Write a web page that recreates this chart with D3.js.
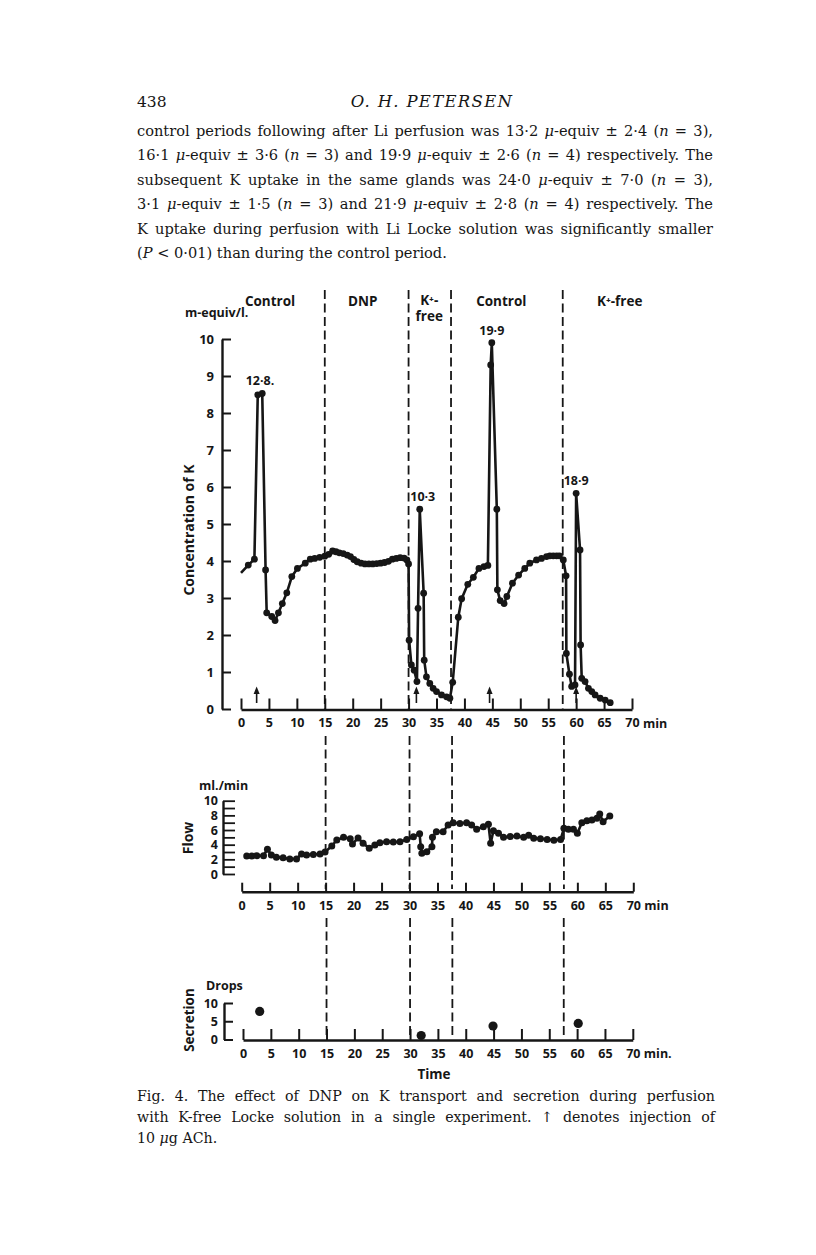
<!DOCTYPE html>
<html><head><meta charset="utf-8">
<script src="https://cdn.jsdelivr.net/npm/d3@7"></script>
<style>body{margin:0;background:#fff} svg{display:block} text{white-space:pre}</style>
</head><body><svg id="c" width="816" height="1255"></svg>
<script>
// ---------------- DATA ----------------
const kTime = [0.0,1.3,2.4,3.0,3.8,4.4,4.6,5.5,6.1,6.7,7.4,8.2,9.1,10.1,11.5,12.4,13.2,14.1,15.0,15.7,16.4,17.0,17.6,18.3,19.0,19.6,20.2,20.8,21.5,22.2,22.9,23.6,24.3,25.0,25.7,26.4,27.1,27.8,28.5,29.2,29.7,30.0,30.1,30.5,31.0,31.5,31.7,32.0,32.7,32.8,33.2,33.8,34.4,35.0,35.9,36.8,37.4,37.9,38.9,39.5,40.6,41.6,42.6,43.5,44.2,44.7,44.9,45.8,45.9,46.4,47.1,47.6,48.6,49.7,50.8,51.7,52.9,53.8,54.7,55.3,55.9,56.5,57.0,57.7,58.2,58.25,58.8,59.2,59.8,60.0,60.7,60.8,61.0,61.6,62.2,62.8,63.4,64.3,65.2,66.1];
const kConc = [3.68,3.89,4.05,8.49,8.53,3.76,2.60,2.50,2.39,2.60,2.85,3.14,3.58,3.80,3.94,4.05,4.07,4.10,4.13,4.18,4.27,4.25,4.22,4.20,4.16,4.12,4.04,3.98,3.94,3.92,3.92,3.92,3.93,3.94,3.96,3.99,4.05,4.07,4.09,4.08,4.03,3.92,1.86,1.19,1.05,0.74,2.72,5.40,3.13,1.32,0.87,0.69,0.56,0.47,0.38,0.33,0.29,0.72,2.48,2.98,3.37,3.56,3.80,3.85,3.88,9.30,9.90,5.40,3.22,2.93,2.85,3.04,3.40,3.62,3.80,3.94,4.03,4.07,4.12,4.14,4.14,4.14,4.14,4.03,3.60,1.50,0.94,0.61,0.65,5.83,4.30,1.73,0.83,0.74,0.56,0.47,0.38,0.29,0.24,0.17];

const flowTime = [0.9,1.8,2.7,3.9,4.6,5.3,6.2,7.4,8.6,9.8,10.7,11.6,12.8,14.0,14.9,16.1,17.0,18.2,19.4,19.8,20.8,21.7,22.8,23.8,24.7,25.9,27.1,28.3,29.5,30.7,31.8,32.0,32.2,33.1,34.0,34.1,34.8,36.0,36.9,37.8,39.0,40.2,41.1,42.0,43.2,44.1,44.5,45.0,45.9,46.8,48.0,49.2,50.4,51.3,52.2,53.4,54.6,55.8,57.0,57.6,58.4,59.3,60.0,60.8,61.7,62.6,63.5,64.0,64.6,65.8];
const flowRate = [2.46,2.46,2.5,2.5,3.37,2.6,2.3,2.2,2.05,2.05,2.73,2.6,2.65,2.73,3.0,3.82,4.64,5.0,4.8,4.1,4.9,4.2,3.5,3.96,4.28,4.4,4.35,4.4,4.7,5.09,5.5,3.73,2.82,3.05,3.73,5.0,5.77,5.77,6.68,7.0,6.9,7.0,6.68,6.1,6.46,6.8,4.19,5.9,5.55,5.0,5.1,5.18,5.0,5.3,4.87,4.8,4.7,4.6,4.7,6.23,6.1,6.1,5.55,7.0,7.28,7.37,7.6,8.19,7.14,7.9];

const secTime  = [3.0, 32.0, 44.9, 60.2];
const secDrops = [7.7, 1.1, 3.7, 4.4];

const timeTicks   = [0,5,10,15,20,25,30,35,40,45,50,55,60,65,70];
const kTicks      = [0,1,2,3,4,5,6,7,8,9,10];
const flowTicks   = [0,1,2,3,4,5,6,7,8,9,10];
const secTicks    = [0,5,10];
const periodBounds = [15, 30, 37.6, 57.6];
const periodNames  = ["Control", "DNP", "K\u207A-|free", "Control", "K\u207A-free"];
const periodMid    = [5.2, 21.8, 33.7, 46.6, 67.8];
const peakTimes    = [3.4, 32.0, 44.9, 60.0];
const peakLabels   = ["12·8.", "10·3", "19·9", "18·9"];
const achTimes     = [2.8, 31.4, 44.5, 60.0];

const paragraph = [
 "control periods following after Li perfusion was 13·2 {μ}-equiv ± 2·4 ({n} = 3),",
 "16·1 {μ}-equiv ± 3·6 ({n} = 3) and 19·9 {μ}-equiv ± 2·6 ({n} = 4) respectively. The",
 "subsequent K uptake in the same glands was 24·0 {μ}-equiv ± 7·0 ({n} = 3),",
 "3·1 {μ}-equiv ± 1·5 ({n} = 3) and 21·9 {μ}-equiv ± 2·8 ({n} = 4) respectively. The",
 "K uptake during perfusion with Li Locke solution was significantly smaller",
 "({P} < 0·01) than during the control period."
];
const caption = [
 "Fig. 4. The effect of DNP on K transport and secretion during perfusion",
 "with K-free Locke solution in a single experiment. ↑ denotes injection of",
 "10 {μ}g ACh."
];

// ---------------- DRAW ----------------
const svg = d3.select("#c");
const INK = "#161616";
const SANS = "'Open Sans', Lato, sans-serif";
const SERIF = "'DejaVu Serif', 'Liberation Serif', serif";

function rich(sel, str){
  str.split(/(\{[^}]*\})/).forEach(p=>{
    if(!p) return;
    if(p[0]==="{") sel.append("tspan").attr("font-style","italic").text(p.slice(1,-1));
    else sel.append("tspan").text(p);
  });
}
function justify(t, str, width){
  const w = t.node().getComputedTextLength();
  const n = (str.match(/ /g)||[]).length;
  if(n>0) t.attr("word-spacing", (width - w)/n);
}

// header
svg.append("text").attr("x",137).attr("y",107).attr("font-family",SERIF).attr("font-size",15.5).attr("fill",INK).text("438");
svg.append("text").attr("x",432).attr("y",107).attr("text-anchor","middle").attr("font-family",SERIF)
  .attr("font-style","italic").attr("font-size",16.5).attr("letter-spacing",1.3).attr("fill",INK).text("O. H. PETERSEN");

paragraph.forEach((ln,i)=>{
  const t = svg.append("text").attr("x",137).attr("y",136+i*24.4).attr("font-family",SERIF)
    .attr("font-size",14.6).attr("fill",INK);
  rich(t, ln);
  if(i<paragraph.length-1) justify(t, ln, 576);
});

caption.forEach((ln,i)=>{
  const t = svg.append("text").attr("x",137).attr("y",1101+i*21).attr("font-family",SERIF)
    .attr("font-size",14.2).attr("fill",INK);
  rich(t, ln);
  if(i<caption.length-1) justify(t, ln, 578);
});

// scales
const xT = d3.scaleLinear().domain([0,70]).range([241,632]);
const yK = d3.scaleLinear().domain([0,10]).range([709,339]);
const xF = d3.scaleLinear().domain([0,70]).range([241.7,633.3]);
const yF = d3.scaleLinear().domain([0,10]).range([874,800.7]);
const xS = d3.scaleLinear().domain([0,70]).range([243,632.8]);
const yS = d3.scaleLinear().domain([0,10]).range([1039.5,1003]);

function styleAxis(g, size){
  g.attr("font-family",SANS).attr("font-size",size).attr("font-weight",700);
  g.selectAll("path.domain").attr("stroke",INK).attr("stroke-width",2.4);
  g.selectAll(".tick line").attr("stroke",INK).attr("stroke-width",2);
  g.selectAll(".tick text").attr("fill",INK);
}
function label(x,y,txt,size,anchor){
  return svg.append("text").attr("x",x).attr("y",y).attr("text-anchor",anchor||"start")
    .attr("font-family",SANS).attr("font-weight",700).attr("font-size",size).attr("fill",INK).text(txt);
}

// dashed period lines (segments between label rows)
function dashes(xs, y0, y1){
  svg.append("g").selectAll("line").data(periodBounds).join("line")
    .attr("x1",d=>xs(d)).attr("x2",d=>xs(d)).attr("y1",y0).attr("y2",y1)
    .attr("stroke",INK).attr("stroke-width",1.8).attr("stroke-dasharray","9,4.5");
}
dashes(xT, 290, 709);
dashes(xF, 736, 889);
dashes(xS, 918, 1038);

// ---- top panel ----
const gxT = svg.append("g").attr("transform","translate(0,709.5)")
  .call(d3.axisBottom(xT).tickValues(timeTicks).tickSizeInner(-11).tickSizeOuter(0).tickPadding(9));
styleAxis(gxT, 12.5);
const gyT = svg.append("g").attr("transform","translate(222,0)")
  .call(d3.axisLeft(yK).tickValues(kTicks).tickSizeInner(-9).tickSizeOuter(0).tickPadding(8));
styleAxis(gyT, 13);
label(xT(70)+11, 728, "min", 12.5);
label(185, 317, "m-equiv/l.", 12.5);
svg.append("text").attr("transform","translate(194,530) rotate(-90)").attr("text-anchor","middle")
  .attr("font-family",SANS).attr("font-weight",700).attr("font-size",14).attr("fill",INK).text("Concentration of K");

periodNames.forEach((nm,i)=>{
  const parts = nm.split("|");
  parts.forEach((p,j)=>{
    label(xT(periodMid[i]), (parts.length>1?305:306)+j*16, p, 13.5, "middle");
  });
});

const kData = kTime.map((t,i)=>[t,kConc[i]]);
svg.append("path").datum(kData).attr("fill","none").attr("stroke",INK).attr("stroke-width",2.6)
  .attr("stroke-linejoin","round").attr("d",d3.line().x(d=>xT(d[0])).y(d=>yK(d[1])));
svg.append("g").selectAll("circle").data(kData.slice(1)).join("circle")
  .attr("cx",d=>xT(d[0])).attr("cy",d=>yK(d[1])).attr("r",3.4).attr("fill",INK);

peakTimes.forEach((t,i)=>{
  let best = kData.reduce((a,b)=>Math.abs(b[0]-t)<Math.abs(a[0]-t)?b:a);
  best = kData.filter(d=>Math.abs(d[0]-t)<0.6).reduce((a,b)=>b[1]>a[1]?b:a, best);
  label(xT(t)+(i===1?3:0), yK(best[1])-8, peakLabels[i], 12.5, "middle");
});

achTimes.forEach(t=>{
  const x = xT(t);
  svg.append("line").attr("x1",x).attr("x2",x).attr("y1",703).attr("y2",691).attr("stroke",INK).attr("stroke-width",1.6);
  svg.append("path").attr("d",`M${x-3},${694}L${x},${686.5}L${x+3},${694}Z`).attr("fill",INK);
});

// ---- flow panel ----
const gxF = svg.append("g").attr("transform","translate(0,891.7)")
  .call(d3.axisBottom(xF).tickValues(timeTicks).tickSizeInner(-9).tickSizeOuter(0).tickPadding(9));
styleAxis(gxF, 12.5);
const gyF = svg.append("g").attr("transform","translate(223,0)")
  .call(d3.axisLeft(yF).tickValues(flowTicks).tickSizeInner(-12).tickSizeOuter(0).tickPadding(5)
    .tickFormat(d=>d%2===0?d:""));
styleAxis(gyF, 12.5);
gyF.selectAll(".tick line").attr("stroke-width",1.8);
label(xF(70)+11, 910, "min", 12.5);
label(199, 790, "ml./min", 12.5);
svg.append("text").attr("transform","translate(193,838) rotate(-90)").attr("text-anchor","middle")
  .attr("font-family",SANS).attr("font-weight",700).attr("font-size",14).attr("fill",INK).text("Flow");

const fData = flowTime.map((t,i)=>[t,flowRate[i]]);
svg.append("path").datum(fData).attr("fill","none").attr("stroke",INK).attr("stroke-width",2.6)
  .attr("stroke-linejoin","round").attr("d",d3.line().x(d=>xF(d[0])).y(d=>yF(d[1])));
svg.append("g").selectAll("circle").data(fData).join("circle")
  .attr("cx",d=>xF(d[0])).attr("cy",d=>yF(d[1])).attr("r",3.5).attr("fill",INK);

// ---- secretion panel ----
const gxS = svg.append("g").attr("transform","translate(0,1040)")
  .call(d3.axisBottom(xS).tickValues(timeTicks).tickSizeInner(-11).tickSizeOuter(0).tickPadding(9));
styleAxis(gxS, 12.5);
const gyS = svg.append("g").attr("transform","translate(224,0)")
  .call(d3.axisLeft(yS).tickValues(secTicks).tickSizeInner(-9).tickSizeOuter(0).tickPadding(6));
styleAxis(gyS, 12.5);
label(xS(70)+11, 1058, "min.", 12.5);
label(206, 990, "Drops", 12.5);
svg.append("text").attr("transform","translate(194,1020) rotate(-90)").attr("text-anchor","middle")
  .attr("font-family",SANS).attr("font-weight",700).attr("font-size",13.5).attr("fill",INK).text("Secretion");
label(xS(34.3), 1079, "Time", 13.5, "middle");
svg.append("g").selectAll("circle").data(secTime.map((t,i)=>[t,secDrops[i]])).join("circle")
  .attr("cx",d=>xS(d[0])).attr("cy",d=>yS(d[1])).attr("r",4.6).attr("fill",INK);
</script></body></html>
